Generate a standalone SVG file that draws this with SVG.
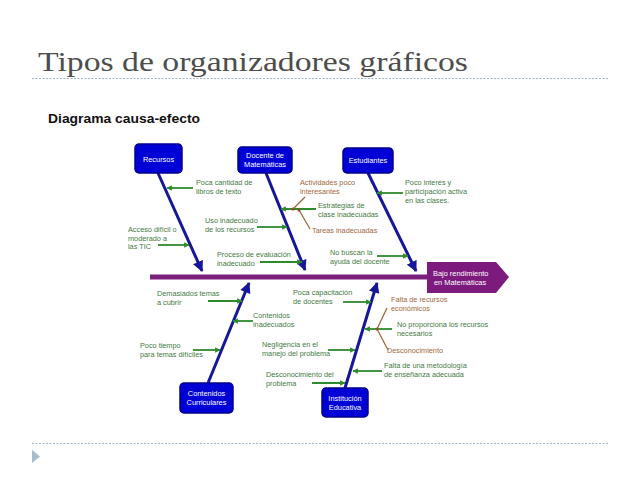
<svg xmlns="http://www.w3.org/2000/svg" width="638" height="479" viewBox="0 0 638 479">
<style>
.title{font-family:"Liberation Serif","DejaVu Serif",serif;font-size:28px;fill:#4d4d4d}
.sub{font-family:"Liberation Sans","DejaVu Sans",sans-serif;font-size:12.5px;font-weight:bold;fill:#111}
.dash{stroke:#9fb4c4;stroke-width:1;stroke-dasharray:2 1.5;fill:none}
.box{fill:#0000d6;stroke:#00008a;stroke-width:1.5}
.bt{font-family:"Liberation Sans","DejaVu Sans",sans-serif;font-size:7.4px;fill:#fff;text-anchor:middle}
.g{font-family:"Liberation Sans","DejaVu Sans",sans-serif;font-size:7.3px;fill:#3f7a3f}
.b{font-family:"Liberation Sans","DejaVu Sans",sans-serif;font-size:7.3px;fill:#a0683c}
.bone{stroke:#16169a;stroke-width:3;fill:none}
.ga{stroke:#2d8a2d;stroke-width:1.8;fill:none}
.br{stroke:#9a6030;stroke-width:1.2;fill:none}
</style>
<defs>
<marker id="bh" viewBox="0 0 10 10" refX="9" refY="5" markerWidth="3.8" markerHeight="3.6" orient="auto" markerUnits="strokeWidth">
<path d="M0,0 L10,5 L0,10 z" fill="#16169a"/>
</marker>
<marker id="gh" viewBox="0 0 10 10" refX="9" refY="5" markerWidth="3" markerHeight="3" orient="auto" markerUnits="strokeWidth">
<path d="M0,0 L10,5 L0,10 z" fill="#2d8a2d"/>
</marker>
</defs>
<rect width="638" height="479" fill="#fff"/>
<text class="title" x="38" y="71" textLength="430" lengthAdjust="spacingAndGlyphs">Tipos de organizadores gráficos</text>
<line class="dash" x1="32" y1="78.5" x2="608" y2="78.5"/>
<text class="sub" x="48" y="123" textLength="152" lengthAdjust="spacingAndGlyphs">Diagrama causa-efecto</text>
<line class="dash" x1="32" y1="443.5" x2="608" y2="443.5"/>
<path d="M32,450 L40,456.5 L32,463 z" fill="#a8bccc"/>

<g id="connectors">
<line x1="150" y1="277" x2="430" y2="277" stroke="#7a1f7a" stroke-width="5"/>
<line class="bone" x1="158" y1="173" x2="202" y2="271" marker-end="url(#bh)"/>
<line class="bone" x1="266" y1="173" x2="305" y2="270" marker-end="url(#bh)"/>
<line class="bone" x1="368" y1="173" x2="416" y2="271" marker-end="url(#bh)"/>
<line class="bone" x1="208" y1="383" x2="249" y2="283" marker-end="url(#bh)"/>
<line class="bone" x1="345" y1="388" x2="377" y2="283" marker-end="url(#bh)"/>
<line class="ga" x1="193" y1="188" x2="167" y2="188" marker-end="url(#gh)"/>
<line class="ga" x1="257" y1="227" x2="287" y2="227" marker-end="url(#gh)"/>
<line class="ga" x1="158" y1="245" x2="189" y2="245" marker-end="url(#gh)"/>
<line class="ga" x1="260" y1="262" x2="302" y2="262" marker-end="url(#gh)"/>
<line class="ga" x1="316" y1="209" x2="281" y2="209" marker-end="url(#gh)"/>
<line class="ga" x1="403" y1="193" x2="377" y2="193" marker-end="url(#gh)"/>
<line class="ga" x1="377" y1="256" x2="408" y2="256" marker-end="url(#gh)"/>
<line class="ga" x1="208" y1="301" x2="242" y2="301" marker-end="url(#gh)"/>
<line class="ga" x1="253" y1="321" x2="233" y2="321" marker-end="url(#gh)"/>
<line class="ga" x1="193" y1="350" x2="220" y2="350" marker-end="url(#gh)"/>
<line class="ga" x1="343" y1="302" x2="371" y2="302" marker-end="url(#gh)"/>
<line class="ga" x1="392" y1="329" x2="365" y2="329" marker-end="url(#gh)"/>
<line class="ga" x1="328" y1="350" x2="355" y2="350" marker-end="url(#gh)"/>
<line class="ga" x1="382" y1="371" x2="353" y2="371" marker-end="url(#gh)"/>
<line class="ga" x1="312" y1="383" x2="345" y2="383" marker-end="url(#gh)"/>
<line class="br" x1="305" y1="197" x2="293" y2="209"/>
<circle cx="293" cy="209" r="1.6" fill="#8a5020"/>
<polyline class="br" points="299,210 310,229"/>
<circle cx="299" cy="210" r="1.6" fill="#8a5020"/>
<line class="br" x1="387" y1="308" x2="377" y2="329"/>
<line class="br" x1="377" y1="329" x2="388" y2="350"/>
<circle cx="377" cy="329" r="1.6" fill="#8a5020"/>
</g>

<g id="recursos"><rect class="box" x="135" y="144" width="47" height="29" rx="4"/><text class="bt" x="158.5" y="161.5">Recursos</text></g>
<g id="docente"><rect class="box" x="238" y="147" width="54" height="26" rx="4"/><text class="bt" x="265" y="158">Docente de</text><text class="bt" x="265" y="167">Matemáticas</text></g>
<g id="estudiantes"><rect class="box" x="343" y="148" width="50" height="25" rx="4"/><text class="bt" x="368" y="163">Estudiantes</text></g>
<g id="contenidos"><rect class="box" x="180" y="383" width="53" height="30" rx="4"/><text class="bt" x="206.5" y="396">Contenidos</text><text class="bt" x="206.5" y="405">Curriculares</text></g>
<g id="institucion"><rect class="box" x="322" y="388" width="46" height="29" rx="4"/><text class="bt" x="345" y="401">Institución</text><text class="bt" x="345" y="410">Educativa</text></g>
<g id="efecto"><path d="M427,262 L496,262 L509,277 L496,293 L427,293 z" fill="#7d1a7d"/><text class="bt" x="433" y="276" style="text-anchor:start">Bajo rendimiento</text><text class="bt" x="434" y="285" style="text-anchor:start">en Matemáticas</text></g>

<g id="causas">
<text class="g" x="196" y="185">Poca cantidad de</text><text class="g" x="196" y="194">libros de texto</text>
<text class="g" x="205" y="223">Uso inadecuado</text><text class="g" x="205" y="232">de los recursos</text>
<text class="g" x="128" y="232">Acceso difícil o</text><text class="g" x="128" y="241">moderado a</text><text class="g" x="128" y="249">las TIC</text>
<text class="g" x="217" y="257">Proceso de evaluación</text><text class="g" x="217" y="266">inadecuado</text>
<text class="b" x="300" y="185">Actividades poco</text><text class="b" x="300" y="194">interesantes</text>
<text class="g" x="318" y="208">Estrategias de</text><text class="g" x="318" y="217">clase inadecuadas</text>
<text class="b" x="312" y="233">Tareas inadecuadas</text>
<text class="g" x="405" y="185">Poco interés y</text><text class="g" x="405" y="194">participación activa</text><text class="g" x="405" y="203">en las clases.</text>
<text class="g" x="330" y="255">No buscan la</text><text class="g" x="330" y="264">ayuda del docente</text>
<text class="g" x="157" y="296">Demasiados temas</text><text class="g" x="157" y="305">a cubrir</text>
<text class="g" x="253" y="318">Contenidos</text><text class="g" x="253" y="327">inadecuados</text>
<text class="g" x="140" y="348">Poco tiempo</text><text class="g" x="140" y="357">para temas difíciles</text>
<text class="g" x="293" y="295">Poca capacitación</text><text class="g" x="293" y="304">de docentes</text>
<text class="b" x="391" y="302">Falta de recursos</text><text class="b" x="391" y="311">económicos</text>
<text class="g" x="397" y="327">No proporciona los recursos</text><text class="g" x="397" y="336">necesarios</text>
<text class="b" x="387" y="353">Desconocimiento</text>
<text class="g" x="262" y="347">Negligencia en el</text><text class="g" x="262" y="356">manejo del problema</text>
<text class="g" x="384" y="368">Falta de una metodología</text><text class="g" x="384" y="377">de enseñanza adecuada</text>
<text class="g" x="266" y="377">Desconocimiento del</text><text class="g" x="266" y="386">problema</text>
</g>
</svg>
